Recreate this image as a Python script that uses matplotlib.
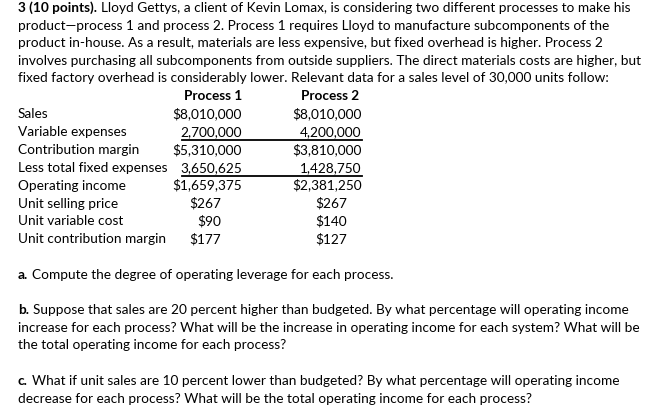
import matplotlib
matplotlib.use('Agg')
from matplotlib import pyplot as plt

FONT = 'Lato'

intro_head = '3 (10 points).'
intro_lines = [
    'Lloyd Gettys, a client of Kevin Lomax, is considering two different processes to make his',
    'product\u2014process 1 and process 2. Process 1 requires Lloyd to manufacture subcomponents of the',
    'product in-house. As a result, materials are less expensive, but fixed overhead is higher. Process 2',
    'involves purchasing all subcomponents from outside suppliers. The direct materials costs are higher, but',
    'fixed factory overhead is considerably lower. Relevant data for a sales level of 30,000 units follow:',
]

headers = ['Process 1', 'Process 2']
row_labels = ['Sales', 'Variable expenses', 'Contribution margin',
              'Less total fixed expenses', 'Operating income',
              'Unit selling price', 'Unit variable cost',
              'Unit contribution margin']
process1 = ['$8,010,000', '2,700,000', '$5,310,000', '3,650,625',
            '$1,659,375', '$267', '$90', '$177']
process2 = ['$8,010,000', '4,200,000', '$3,810,000', '1,428,750',
            '$2,381,250', '$267', '$140', '$127']
underlined = [1, 3]   # rows with a rule under them

questions = [
    ('a.', ['Compute the degree of operating leverage for each process.']),
    ('b.', ['Suppose that sales are 20 percent higher than budgeted. By what percentage will operating income',
            'increase for each process? What will be the increase in operating income for each system? What will be',
            'the total operating income for each process?']),
    ('c.', ['What if unit sales are 10 percent lower than budgeted? By what percentage will operating income',
            'decrease for each process? What will be the total operating income for each process?']),
]


fig = plt.figure(figsize=(6.53, 4.20), dpi=100)
ax = fig.add_axes([0, 0, 1, 1])
ax.set_xlim(0, 653)
ax.set_ylim(420, 0)
ax.axis('off')
renderer = fig.canvas.get_renderer()


def width(t):
    return t.get_window_extent(renderer).width


# scale the font so the first line is about as wide as in the original
p1 = ax.text(0, 0, intro_head, fontsize=10, fontweight='bold', family=FONT)
p2 = ax.text(0, 0, intro_lines[0], fontsize=10, family=FONT)
size = 10 * 608 / (width(p1) + width(p2))
p1.remove()
p2.remove()
gap = size * 100 / 72 * 0.3   # a word space


def put(x, y, text, bold=False, ha='left'):
    return ax.text(x, y, text, fontsize=size, family=FONT, ha=ha,
                   va='baseline', fontweight='bold' if bold else 'normal',
                   color='black')


def line(x, y, head, body):
    if head:
        t = put(x, y, head, bold=True)
        x += width(t) + gap
    put(x, y, body)


left = 18
step = 17.6

# intro paragraph
y = 12
for i, body in enumerate(intro_lines):
    line(left, y + i * step, intro_head if i == 0 else None, body)

# table
put(213, 100.5, headers[0], bold=True, ha='center')
put(330, 100.5, headers[1], bold=True, ha='center')
row_y = [118 + i * 17.9 for i in range(len(row_labels))]
for i, lab in enumerate(row_labels):
    put(left, row_y[i], lab)
    unit_row = i >= 5
    put(221 if unit_row else 242, row_y[i], process1[i], ha='right')
    put(347 if unit_row else 361.5, row_y[i], process2[i], ha='right')
for i in underlined:
    ax.plot([182, 362], [row_y[i] + 4, row_y[i] + 4], color='black', lw=1.3)

# questions
starts = [278.6, 314, 385]
for (head, lines), y0 in zip(questions, starts):
    for j, body in enumerate(lines):
        line(left, y0 + j * step, head if j == 0 else None, body)

fig.savefig('out.png', dpi=100, facecolor='white')
